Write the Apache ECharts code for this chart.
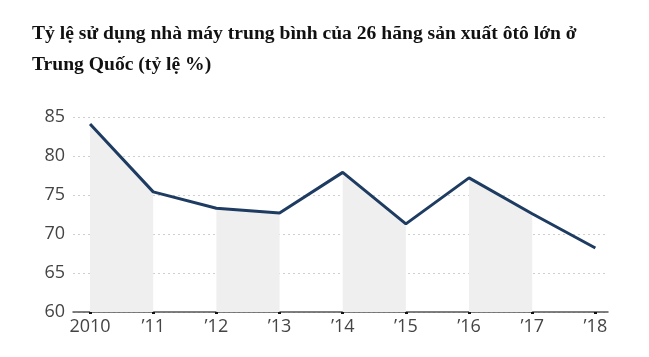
<!DOCTYPE html>
<html><head><meta charset="utf-8">
<script src="https://cdn.jsdelivr.net/npm/echarts@6/dist/echarts.min.js"></script>
<style>html,body{margin:0;padding:0;background:#fff}#c{width:649px;height:357px}</style>
</head><body><div id="c"></div>
<script>
const years = [2010, 2011, 2012, 2013, 2014, 2015, 2016, 2017, 2018];
const tickLabels = ['2010', '\u201911', '\u201912', '\u201913', '\u201914', '\u201915', '\u201916', '\u201917', '\u201918'];
const values = [84.1, 75.4, 73.3, 72.7, 77.9, 71.3, 77.2, 72.6, 68.2];
const shadedStarts = [2010, 2012, 2014, 2016];

const chart = echarts.init(document.getElementById('c'));
const bandSeries = shadedStarts.map(s => {
  const i = years.indexOf(s);
  return {
    type: 'line', symbol: 'none', silent: true, z: 1,
    lineStyle: { width: 0 },
    areaStyle: { color: '#efefef', opacity: 1, origin: 'start' },
    data: [[years[i], values[i]], [years[i + 1], values[i + 1]]]
  };
});
chart.setOption({
  animation: false,
  title: {
    text: 'Tỷ lệ sử dụng nhà máy trung bình của 26 hãng sản xuất ôtô lớn ở\nTrung Quốc (tỷ lệ %)',
    left: 27, top: 13,
    textStyle: { fontFamily: 'Liberation Serif', fontWeight: 'bold', fontSize: 19.6, lineHeight: 31, color: '#111' }
  },
  grid: { left: 73, right: 41, top: 117, bottom: 45 },
  xAxis: {
    type: 'value', min: 2009.73, max: 2018.2,
    axisLine: { show: true, lineStyle: { color: '#555', width: 1.5 } },
    axisTick: { show: true, customValues: years, length: 2, inside: false, lineStyle: { color: '#111', width: 3 } },
    axisLabel: {
      customValues: years, margin: 6,
      formatter: v => tickLabels[years.indexOf(Math.round(v))] || '',
      fontFamily: 'Open Sans', fontSize: 18, color: '#444'
    },
    splitLine: { show: false }
  },
  yAxis: {
    type: 'value', min: 60, max: 85, interval: 5,
    axisLine: { show: false }, axisTick: { show: false },
    axisLabel: { fontFamily: 'Open Sans', fontSize: 18, color: '#444', margin: 8 },
    splitLine: { show: true, lineStyle: { color: '#cfcfcf', type: [2, 3], width: 1 } }
  },
  series: [
    ...bandSeries,
    {
      type: 'line', symbol: 'none', z: 5,
      lineStyle: { color: '#1e3c62', width: 3 },
      data: years.map((y, i) => [y, values[i]])
    }
  ]
});
</script></body></html>
